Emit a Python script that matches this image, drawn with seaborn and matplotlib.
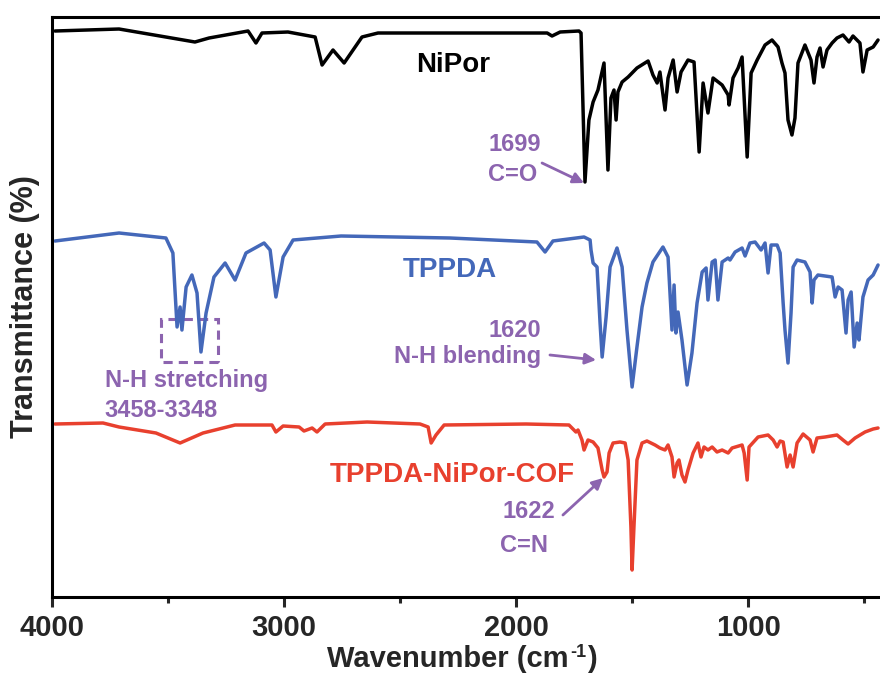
import matplotlib
matplotlib.use("Agg")
import matplotlib.pyplot as plt
import pandas as pd
import seaborn as sns
from matplotlib.patches import Rectangle

# ---------------- data (wavenumber in cm-1, transmittance in a.u., stacked) ----------------
nipor_wn = [3987, 3711, 3384, 3323, 3155, 3121, 3095, 2983, 2866, 2836, 2789, 2741, 2664, 2595,
            2285, 1866, 1845, 1810, 1729, 1720, 1703, 1686, 1668, 1647, 1621, 1604, 1591, 1578,
            1569, 1561, 1543, 1517, 1479, 1431, 1410, 1392, 1380, 1358, 1345, 1323, 1306, 1289,
            1259, 1233, 1211, 1194, 1173, 1151, 1112, 1086, 1082, 1065, 1043, 1026, 1004, 987,
            961, 927, 897, 871, 854, 841, 828, 811, 798, 785, 755, 729, 716, 703, 690, 677, 660,
            638, 617, 591, 565, 548, 518, 505, 487, 461, 440]
nipor_t = [566, 568, 555, 559, 566, 554, 564, 565, 560, 532, 547, 534, 560, 564,
           564, 564, 561, 565, 566, 564, 415, 477, 495, 507, 534, 427, 499, 507,
           477, 505, 515, 520, 529, 536, 522, 514, 525, 487, 519, 537, 505, 525,
           537, 535, 445, 514, 484, 519, 512, 502, 492, 519, 529, 540, 440, 524,
           537, 552, 557, 550, 534, 524, 477, 462, 479, 534, 552, 537, 514, 540, 549, 530, 547,
           554, 559, 562, 555, 561, 554, 525, 547, 550, 557]

tppda_wn = [3987, 3711, 3509, 3479, 3461, 3448, 3440, 3422, 3397, 3375, 3358, 3336, 3302, 3254,
            3211, 3164, 3086, 3060, 3035, 3004, 2961, 2754, 2285, 1910, 1875, 1841, 1707, 1681,
            1677, 1668, 1651, 1638, 1629, 1612, 1595, 1565, 1543, 1522, 1500, 1479, 1457, 1436,
            1410, 1367, 1345, 1328, 1319, 1311, 1302, 1285, 1263, 1242, 1220, 1198, 1181, 1173,
            1155, 1142, 1130, 1112, 1086, 1078, 1056, 1026, 1013, 992, 970, 944, 927, 914, 901,
            875, 862, 849, 841, 828, 815, 806, 789, 755, 733, 724, 716, 699, 638, 625, 612, 595,
            578, 569, 556, 543, 530, 522, 505, 483, 461, 440]
tppda_t = [356, 364, 359, 344, 270, 290, 267, 310, 322, 304, 245, 284, 320, 334,
           317, 344, 354, 347, 300, 340, 357, 361, 359, 355, 345, 356, 360, 357,
           347, 334, 330, 274, 240, 280, 330, 349, 330, 267, 210, 250, 290, 314,
           335, 350, 340, 267, 312, 264, 285, 257, 212, 244, 294, 325, 329, 297,
           335, 337, 297, 335, 339, 337, 345, 349, 341, 354, 355, 347, 354, 324, 352,
           352, 344, 294, 267, 234, 284, 330, 337, 335, 325, 294, 317, 322, 320, 300, 310, 307,
           264, 297, 305, 250, 274, 257, 300, 317, 322, 332]

cof_wn = [3987, 3780, 3711, 3552, 3448, 3349, 3211, 3052, 3035, 3004, 2935, 2914, 2879, 2858,
          2823, 2642, 2414, 2379, 2366, 2345, 2310, 1957, 1772, 1742, 1733, 1716, 1707, 1690,
          1668, 1647, 1629, 1621, 1608, 1599, 1582, 1552, 1530, 1517, 1505, 1500, 1492, 1479,
          1457, 1436, 1401, 1380, 1358, 1345, 1328, 1319, 1306, 1298, 1285, 1272, 1259, 1237,
          1216, 1203, 1190, 1173, 1155, 1134, 1112, 1086, 1069, 1026, 1017, 1004, 996, 957,
          914, 892, 875, 862, 849, 832, 819, 806, 789, 763, 733, 720, 703, 668, 617, 591,
          569, 539, 496, 461, 440]
cof_t = [173, 174, 170, 164, 154, 164, 172, 172, 165, 171, 170, 166, 169, 165,
         173, 175, 173, 170, 154, 162, 172, 173, 172, 165, 167, 157, 147, 157,
         155, 149, 127, 120, 125, 144, 154, 155, 154, 137, 70, 27, 70, 137,
         154, 156, 152, 149, 147, 152, 140, 120, 134, 137, 122, 115, 127, 144,
         154, 140, 150, 147, 150, 145, 147, 144, 149, 152, 144, 117, 150, 160,
         162, 157, 150, 156, 155, 130, 142, 130, 154, 163, 157, 145, 159, 160, 162, 157,
         153, 159, 165, 168, 169]

samples = ["NiPor", "TPPDA", "TPPDA-NiPor-COF"]
colors = {"NiPor": "#000000", "TPPDA": "#4468b9", "TPPDA-NiPor-COF": "#e8402e"}
purple = "#8c64af"

df = pd.concat([
    pd.DataFrame({"wn": nipor_wn, "t": nipor_t, "sample": "NiPor"}),
    pd.DataFrame({"wn": tppda_wn, "t": tppda_t, "sample": "TPPDA"}),
    pd.DataFrame({"wn": cof_wn, "t": cof_t, "sample": "TPPDA-NiPor-COF"}),
], ignore_index=True)

# ---------------- style ----------------
sns.set_theme(style="ticks")
plt.rcParams["font.family"] = ["Liberation Sans", "DejaVu Sans"]
plt.rcParams["font.weight"] = "bold"
plt.rcParams["axes.labelweight"] = "bold"

fig = plt.figure(figsize=(8.8, 6.82), dpi=100)
ax = fig.add_axes([52 / 880, 85 / 682, 833 / 880, 580 / 682])

sns.lineplot(data=df, x="wn", y="t", hue="sample", hue_order=samples, palette=colors,
             estimator=None, sort=False, linewidth=2.5, legend=False, ax=ax)

ax.set_xlim(4000, 410)
ax.set_ylim(0, 580)
ax.set_xticks([4000, 3000, 2000, 1000])
ax.set_xticks([3500, 2500, 1500, 500], minor=True)
ax.set_yticks([])
ax.tick_params(axis="x", which="major", direction="out", length=7, width=2.2,
               labelsize=21, pad=5)
ax.tick_params(axis="x", which="minor", direction="out", length=4, width=2.2)
for lab in ax.get_xticklabels():
    lab.set_fontweight("bold")
for s in ax.spines.values():
    s.set_linewidth(2.2)
    s.set_color("black")

# x label built from chained pieces so the superscript keeps a plain hyphen
ax.set_xlabel("")
t1 = ax.text(0.330, -0.083, "Wavenumber (cm", transform=ax.transAxes, fontsize=21,
             fontweight="bold", ha="left", va="top")
t2 = ax.annotate("-1", xy=(1, 1), xycoords=t1, xytext=(1, 1), textcoords="offset points",
                 fontsize=13, fontweight="bold", ha="left", va="top")
ax.annotate(")", xy=(1, 0), xycoords=(t2, t1), xytext=(1, 0), textcoords="offset points",
            fontsize=21, fontweight="bold", ha="left", va="bottom")

ax.set_ylabel("Transmittance (%)", fontsize=22, fontweight="bold")
ax.yaxis.set_label_coords(-0.014, 0.5)

# ---------------- series labels ----------------
ax.text(2272, 525, "NiPor", color=colors["NiPor"], fontsize=20, fontweight="bold",
        ha="center", va="baseline")
ax.text(2285, 320, "TPPDA", color=colors["TPPDA"], fontsize=20, fontweight="bold",
        ha="center", va="baseline")
ax.text(2276, 115, "TPPDA-NiPor-COF", color=colors["TPPDA-NiPor-COF"], fontsize=20,
        fontweight="bold", ha="center", va="baseline")

# ---------------- annotations ----------------
arrow = dict(arrowstyle="-|>", color=purple, lw=2, mutation_scale=16, shrinkA=0, shrinkB=0)
fs = 17
ax.text(2004, 446, "1699", color=purple, fontsize=fs, fontweight="bold", ha="center", va="baseline")
ax.text(2013, 416, "C=O", color=purple, fontsize=fs, fontweight="bold", ha="center", va="baseline")
ax.annotate("", xy=(1707, 414), xytext=(1888, 434), arrowprops=arrow)

ax.text(1892, 260, "1620", color=purple, fontsize=fs, fontweight="bold", ha="right", va="baseline")
ax.text(1892, 234, "N-H blending", color=purple, fontsize=fs, fontweight="bold", ha="right", va="baseline")
ax.annotate("", xy=(1655, 237), xytext=(1854, 242), arrowprops=arrow)

ax.add_patch(Rectangle((3284, 235), 246, 43, fill=False, edgecolor=purple, lw=2.2,
                       linestyle=(0, (3, 2))))
ax.text(3772, 210, "N-H stretching", color=purple, fontsize=fs, fontweight="bold", ha="left", va="baseline")
ax.text(3772, 180, "3458-3348", color=purple, fontsize=fs, fontweight="bold", ha="left", va="baseline")

ax.text(1944, 79, "1622", color=purple, fontsize=fs, fontweight="bold", ha="center", va="baseline")
ax.text(1966, 45, "C=N", color=purple, fontsize=fs, fontweight="bold", ha="center", va="baseline")
ax.annotate("", xy=(1625, 119), xytext=(1798, 82), arrowprops=arrow)

fig.savefig("out.png", dpi=100)
